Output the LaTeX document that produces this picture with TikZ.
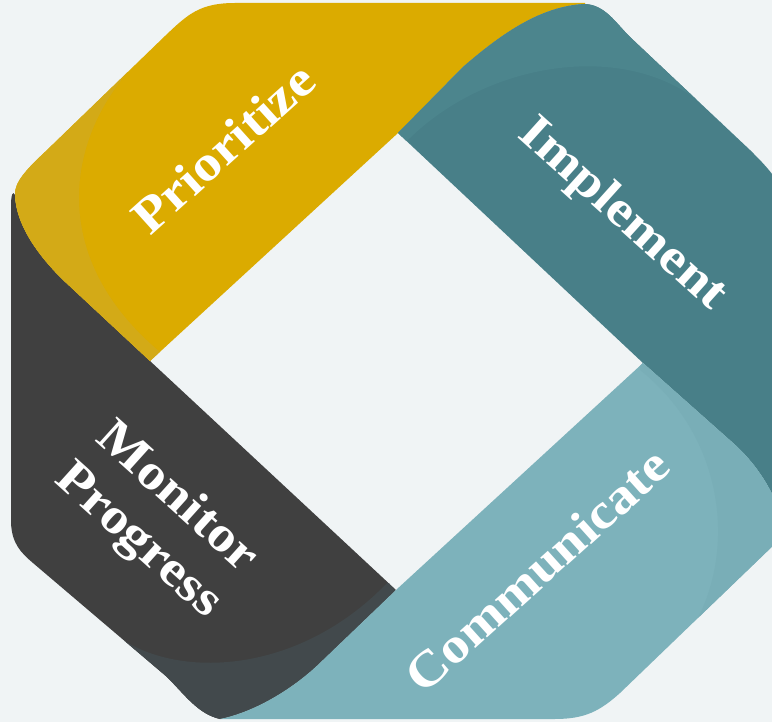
\documentclass[tikz,border=0pt]{standalone}
\usepackage{fontspec}
\newfontfamily\labfont[FakeStretch=1.12]{Liberation Serif}
\definecolor{bgc}{HTML}{F0F4F5}
\definecolor{yel}{HTML}{DBAB00}
\definecolor{yelsh}{HTML}{D3AA17}
\definecolor{tea}{HTML}{487F88}
\definecolor{teash}{HTML}{4C858D}
\definecolor{ltea}{HTML}{7DB2BB}
\definecolor{lteash}{HTML}{79AEB7}
\definecolor{drk}{HTML}{404040}
\definecolor{drksh}{HTML}{42494C}
\tikzset{
  lab/.style={text=white, font=\labfont\bfseries\fontsize{50}{58}\selectfont, inner sep=0pt, align=center}
}
\def\pathYel{(150,361) -- (398,133) -- (463,67) .. controls (500,35) and (540,6) .. (585,4) -- (585,3) -- (235,3) .. controls (200,3) and (188,14) .. (165,36) -- (45,152) .. controls (28,168) and (14,182) .. (15,195) .. controls (16,225) and (38,255) .. (62,279) -- cycle}
\def\pathTea{(398,133) -- (463,67) .. controls (500,35) and (540,6) .. (585,4) .. controls (605,5) and (615,22) .. (630,37) -- (750,150) .. controls (762,162) and (770,170) .. (780,185) -- (780,510) -- (775,500) .. controls (765,478) and (750,458) .. (733,443) -- (643,363) -- cycle}
\def\pathLte{(643,363) -- (733,443) .. controls (750,458) and (765,478) .. (775,500) -- (780,505) -- (780,539) -- (620,693) .. controls (600,711) and (585,719) .. (555,719) -- (220,719) .. controls (255,712) and (295,688) .. (323,660) -- (396,590) -- cycle}
\def\pathDrk{(150,361) -- (62,279) .. controls (38,255) and (16,225) .. (15,195) .. controls (13,190) and (11,195) .. (11,205) -- (11,523) .. controls (12,543) and (20,552) .. (33,563) -- (167,677) .. controls (185,695) and (198,714) .. (220,719) .. controls (255,712) and (295,688) .. (323,660) -- (396,590) -- cycle}
\begin{document}
\begin{tikzpicture}[x=1pt,y=-1pt]
\useasboundingbox (0,0) rectangle (772,722);
\fill[bgc] (0,0) rectangle (772,722);
% dark band
\fill[drk] \pathDrk;
\begin{scope}
  \clip \pathDrk;
  \fill[drksh] (100,620) .. controls (150,680) and (290,685) .. (388,582) -- (420,620) -- (250,760) -- (-10,760) -- (-10,620) -- cycle;
\end{scope}
% yellow band
\fill[yel] \pathYel;
\begin{scope}
  \clip \pathYel;
  \fill[yelsh] (128,72) .. controls (65,145) and (50,260) .. (160,352) -- (100,420) -- (-10,420) -- (-10,-10) -- (128,-10) -- cycle;
\end{scope}
% teal band
\fill[tea] \pathTea;
\begin{scope}
  \clip \pathTea;
  \fill[teash] (405,143) .. controls (490,55) and (650,35) .. (722,124) -- (800,124) -- (800,-10) -- (380,-10) -- (380,143) -- cycle;
\end{scope}
% light teal band
\fill[ltea] \pathLte;
\begin{scope}
  \clip \pathLte;
  \fill[lteash] (640,370) .. controls (728,440) and (738,560) .. (688,635) -- (700,760) -- (800,760) -- (800,300) -- (640,300) -- cycle;
\end{scope}
% labels
\node[lab, rotate=42] (prio) at (223,148) {Prioritize};
\node[lab, rotate=-42] (impl) at (622,215) {Implement};
\node[lab, rotate=42] (comm) at (537,570) {Communicate};
\node[lab, rotate=-42] (mon) at (157,520) {Monitor\\Progress};
\end{tikzpicture}
\end{document}
